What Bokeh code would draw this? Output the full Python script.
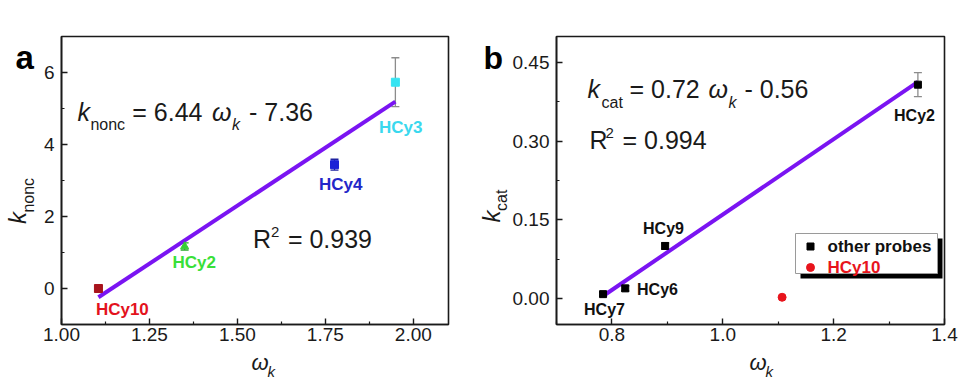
import numpy as np
from bokeh.plotting import figure
from bokeh.layouts import row, column
from bokeh.models import ColumnDataSource, FixedTicker, Label, Whisker, TeeHead, Range1d
from bokeh.embed import file_html
from bokeh.resources import INLINE

# ---------------- data: panel a ----------------
a_names = ["HCy10", "HCy2", "HCy4", "HCy3"]
a_omega = [1.105, 1.35, 1.776, 1.949]
a_knonc = [0.0, 1.17, 3.44, 5.73]
a_err = [0.08, 0.10, 0.15, 0.68]
a_slope, a_intercept, a_r2 = 6.44, -7.36, 0.939
a_xticks = [1.00, 1.25, 1.50, 1.75, 2.00]
a_xtick_labels = ["1.00", "1.25", "1.50", "1.75", "2.00"]
a_xminor = [1.125, 1.375, 1.625, 1.875]
a_yticks = [0, 2, 4, 6]
a_ytick_labels = ["0", "2", "4", "6"]
a_yminor = [-1, 1, 3, 5]

# ---------------- data: panel b ----------------
b_names = ["HCy2", "HCy9", "HCy6", "HCy7"]
b_omega = [1.352, 0.896, 0.824, 0.784]
b_kcat = [0.408, 0.100, 0.019, 0.008]
b_err = [0.023, 0.006, 0.005, 0.004]
b_h10_name = ["HCy10"]
b_h10_omega = [1.107]
b_h10_kcat = [0.002]
b_slope, b_intercept, b_r2 = 0.72, -0.56, 0.994
b_xticks = [0.8, 1.0, 1.2, 1.4]
b_xtick_labels = ["0.8", "1.0", "1.2", "1.4"]
b_xminor = [0.7, 0.9, 1.1, 1.3]
b_yticks = [0.0, 0.15, 0.30, 0.45]
b_ytick_labels = ["0.00", "0.15", "0.30", "0.45"]
b_yminor = [0.075, 0.225, 0.375]
legend_labels = ["other probes", "HCy10"]

# ---------------- styles / layout ----------------
FONT = "Liberation Sans"
INK = "#1a1a1a"
FIT = "#7a14f2"
a_marker_colors = ["#a8141c", "#35cf35", "#1c22d6", "#36e4f2"]
a_label_colors = ["#e3121c", "#38e038", "#2326c8", "#3ad8ee"]
a_err_colors = ["#8a1616", "#2aa82a", "#1e22a0", "#8c8c8c"]
a_markers = ["square", "triangle", "square", "square"]
b_err_colors = ["#8c8c8c", INK, INK, INK]

W, H = 479, 380          # one panel
MAIN_H = 350             # main figure height (strip below holds x title)
BOT_H = H - MAIN_H
A_STRIP_W = 40
B_STRIP_W = 30
A_FR = dict(l=60, r=448, t=36, b=324)          # frame in panel pixels
B_FR = dict(l=556 - W, r=944 - W, t=36, b=324)
A_XR, A_YR = (1.0, 2.1), (-1.0, 7.0)
B_XR, B_YR = (0.7, 1.4), (-0.05, 0.5)
MID = 0.35   # distance baseline -> text middle, in em


def make_conv(fr, xr, yr, xoff=0):
    def conv(px, py):
        px = px - xoff
        x = xr[0] + (px - fr["l"]) / (fr["r"] - fr["l"]) * (xr[1] - xr[0])
        y = yr[1] - (py - fr["t"]) / (fr["b"] - fr["t"]) * (yr[1] - yr[0])
        return x, y
    return conv


conv_a = make_conv(A_FR, A_XR, A_YR)
conv_b = make_conv(B_FR, B_XR, B_YR, xoff=W)


def strip_conv(dx, dy, h):
    return lambda px, py: (px - dx, h - (py - dy))


def make_main(fr, strip_w, xr, yr, xt, xtl, xm, yt, ytl, ym):
    p = figure(width=W - strip_w, height=MAIN_H, x_range=Range1d(*xr), y_range=Range1d(*yr),
               output_backend="svg", toolbar_location=None,
               min_border_left=fr["l"] - strip_w, min_border_right=W - fr["r"],
               min_border_top=fr["t"], min_border_bottom=MAIN_H - fr["b"])
    p.grid.visible = False
    p.background_fill_color = "white"
    p.border_fill_color = "white"
    p.outline_line_color = INK
    p.outline_line_width = 1.6
    p.outline_line_alpha = 1
    p.xaxis.ticker = FixedTicker(ticks=xt, minor_ticks=xm)
    p.yaxis.ticker = FixedTicker(ticks=yt, minor_ticks=ym)
    p.xaxis.major_label_overrides = {float(t): s for t, s in zip(xt, xtl)}
    p.yaxis.major_label_overrides = {float(t): s for t, s in zip(yt, ytl)}
    for ax in (p.xaxis[0], p.yaxis[0]):
        ax.axis_line_color = INK
        ax.axis_line_width = 1.6
        ax.major_tick_line_color = INK
        ax.minor_tick_line_color = INK
        ax.major_tick_line_width = 1.4
        ax.minor_tick_line_width = 1.2
        ax.major_tick_in = 6
        ax.major_tick_out = 0
        ax.minor_tick_in = 3
        ax.minor_tick_out = 0
        ax.major_label_text_font = FONT
        ax.major_label_text_font_size = "19px"
        ax.major_label_text_color = INK
    p.xaxis.major_label_standoff = 3
    p.yaxis.major_label_standoff = 7
    return p


def make_strip(w, h):
    p = figure(width=w, height=h, x_range=Range1d(0, w), y_range=Range1d(0, h),
               output_backend="svg", toolbar_location=None, min_border=0,
               x_axis_location=None, y_axis_location=None)
    p.grid.visible = False
    p.outline_line_color = None
    p.background_fill_color = "white"
    p.border_fill_color = "white"
    return p


def put(p, conv, text, px, py, size, color=INK, style="normal", align="left",
        angle=0.0, at_baseline=True):
    # (px, py): baseline start point in panel pixels (or text middle if at_baseline=False)
    if at_baseline:
        if angle == 0.0:
            py = py - MID * size
        else:
            px = px - MID * size
    x, y = conv(px, py)
    p.add_layout(Label(x=x, y=y, text=text, text_font=FONT, text_font_size=f"{size}px",
                       text_font_style=style, text_color=color, text_align=align,
                       text_baseline="middle", angle=angle))


# ================= panel a =================
pa = make_main(A_FR, A_STRIP_W, A_XR, A_YR, a_xticks, a_xtick_labels, a_xminor,
               a_yticks, a_ytick_labels, a_yminor)

fx = np.array([min(a_omega), max(a_omega)])
pa.line(fx, a_slope * fx + a_intercept, line_color=FIT, line_width=4)

for i in range(len(a_names)):
    src = ColumnDataSource(dict(x=[a_omega[i]], y=[a_knonc[i]],
                                lo=[a_knonc[i] - a_err[i]], hi=[a_knonc[i] + a_err[i]]))
    c = a_err_colors[i]
    pa.add_layout(Whisker(source=src, base="x", lower="lo", upper="hi", dimension="height",
                          line_color=c, line_width=1.3,
                          lower_head=TeeHead(size=8, line_color=c, line_width=1.3),
                          upper_head=TeeHead(size=8, line_color=c, line_width=1.3)))
    pa.scatter("x", "y", source=src, marker=a_markers[i], size=8,
               fill_color=a_marker_colors[i], line_color=a_marker_colors[i])

a_label_px = [(121, 309), (193, 262), (340, 184), (400, 127)]
for name, col, (px, py) in zip(a_names, a_label_colors, a_label_px):
    put(pa, conv_a, name, px, py, 17, color=col, style="bold", align="center", at_baseline=False)

put(pa, conv_a, "k", 76, 120, 25, style="italic")
put(pa, conv_a, "nonc", 89, 130, 16)
put(pa, conv_a, f"= {a_slope:.2f}", 131, 120, 25)
put(pa, conv_a, "\u03c9", 211, 120, 25, style="italic")
put(pa, conv_a, "k", 231, 130, 16, style="italic")
put(pa, conv_a, f"- {abs(a_intercept):.2f}", 248, 120, 25)
put(pa, conv_a, "R", 252, 247, 25)
put(pa, conv_a, "2", 270, 237, 15)
put(pa, conv_a, f"= {a_r2:.3f}", 287, 247, 25)

la = make_strip(A_STRIP_W, MAIN_H)
cla = strip_conv(0, 0, MAIN_H)
put(la, cla, "a", 15, 37, 33, color="#000", style="bold")
put(la, cla, "k", 25, 228, 24, style="italic", angle=np.pi / 2)
put(la, cla, "nonc", 34, 214, 16, angle=np.pi / 2)

ba = make_strip(W, BOT_H)
cba = strip_conv(0, MAIN_H, BOT_H)
put(ba, cba, "\u03c9", 251, 370, 22, style="italic")
put(ba, cba, "k", 267, 376, 15, style="italic")

panel_a = column(row(la, pa), ba)

# ================= panel b =================
pb = make_main(B_FR, B_STRIP_W, B_XR, B_YR, b_xticks, b_xtick_labels, b_xminor,
               b_yticks, b_ytick_labels, b_yminor)

fxb = np.array([min(b_omega), max(b_omega)])
pb.line(fxb, b_slope * fxb + b_intercept, line_color=FIT, line_width=4)

for i in range(len(b_names)):
    src = ColumnDataSource(dict(x=[b_omega[i]], y=[b_kcat[i]],
                                lo=[b_kcat[i] - b_err[i]], hi=[b_kcat[i] + b_err[i]]))
    c = b_err_colors[i]
    pb.add_layout(Whisker(source=src, base="x", lower="lo", upper="hi", dimension="height",
                          line_color=c, line_width=1.3,
                          lower_head=TeeHead(size=8, line_color=c, line_width=1.3),
                          upper_head=TeeHead(size=8, line_color=c, line_width=1.3)))
    pb.scatter("x", "y", source=src, marker="square", size=7, fill_color="#000", line_color="#000")

pb.scatter(b_h10_omega, b_h10_kcat, marker="circle", size=8, fill_color="#e8141c",
           line_color="#e8141c")

b_label_px = [(914, 115), (663, 228), (657, 289), (604, 309)]
for name, (px, py) in zip(b_names, b_label_px):
    put(pb, conv_b, name, px, py, 16, color="#111", style="bold", align="center", at_baseline=False)

put(pb, conv_b, "k", 587, 97, 25, style="italic")
put(pb, conv_b, "cat", 601, 108, 16)
put(pb, conv_b, f"= {b_slope:.2f}", 629, 97, 25)
put(pb, conv_b, "\u03c9", 708, 97, 25, style="italic")
put(pb, conv_b, "k", 728, 108, 16, style="italic")
put(pb, conv_b, f"- {abs(b_intercept):.2f}", 744, 97, 25)
put(pb, conv_b, "R", 589, 148, 25)
put(pb, conv_b, "2", 605, 138, 15)
put(pb, conv_b, f"= {b_r2:.3f}", 622, 148, 25)

# legend with drop shadow
sx0, sy0 = conv_b(800, 238)
sx1, sy1 = conv_b(942, 278)
pb.quad(left=[sx0], right=[sx1], top=[sy0], bottom=[sy1], fill_color="#000", line_color=None)
lx0, ly0 = conv_b(795, 233)
lx1, ly1 = conv_b(937, 273)
pb.quad(left=[lx0], right=[lx1], top=[ly0], bottom=[ly1], fill_color="white",
        line_color="#9a9a9a", line_width=1)
mx, my1 = conv_b(810, 246)
_, my2 = conv_b(810, 267)
pb.scatter([mx], [my1], marker="square", size=7, fill_color="#000", line_color="#000")
pb.scatter([mx], [my2], marker="circle", size=8, fill_color="#e8141c", line_color="#e8141c")
put(pb, conv_b, legend_labels[0], 827, 246, 17, color="#111", style="bold", at_baseline=False)
put(pb, conv_b, legend_labels[1], 827, 267, 17, color="#e8141c", style="bold", at_baseline=False)

lb = make_strip(B_STRIP_W, MAIN_H)
clb = strip_conv(W, 0, MAIN_H)
put(lb, clb, "b", 483, 37, 32, color="#000", style="bold")
put(lb, clb, "k", 499, 226, 24, style="italic", angle=np.pi / 2)
put(lb, clb, "cat", 507, 212, 16, angle=np.pi / 2)

bb = make_strip(W, BOT_H)
cbb = strip_conv(W, MAIN_H, BOT_H)
put(bb, cbb, "\u03c9", 749, 370, 22, style="italic")
put(bb, cbb, "k", 765, 376, 15, style="italic")

panel_b = column(row(lb, pb), bb)

layout = row(panel_a, panel_b)
open("out.html", "w").write(file_html(layout, INLINE))
